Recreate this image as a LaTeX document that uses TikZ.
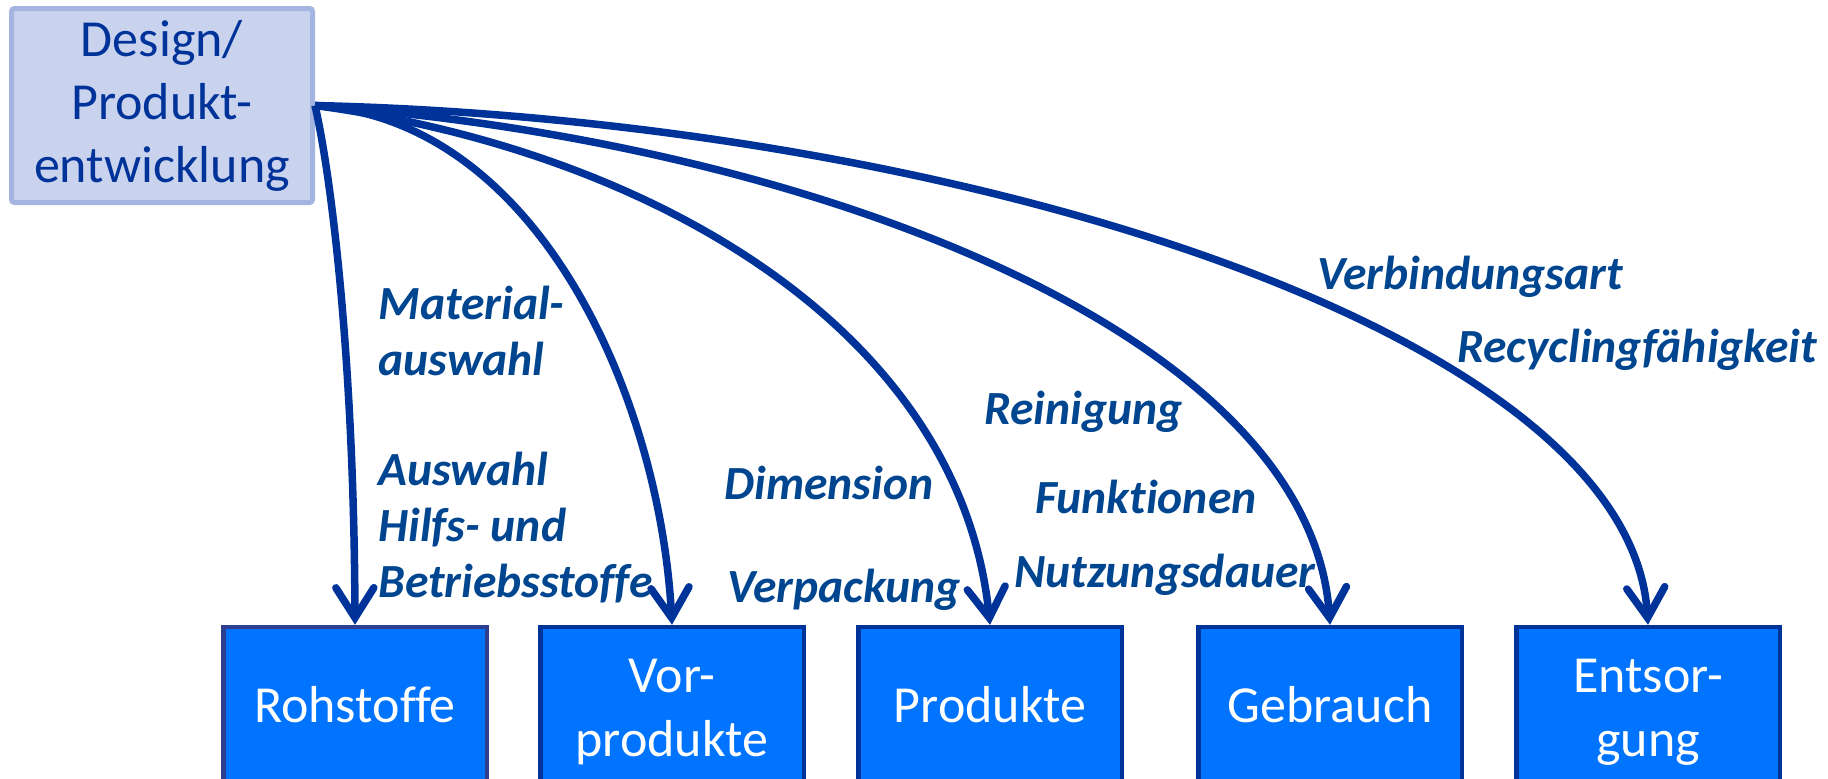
\documentclass[tikz,border=0pt]{standalone}
\usepackage{fontspec}
\setmainfont{Carlito}[Ligatures=NoCommon]
\usetikzlibrary{arrows.meta}

\definecolor{darkblue}{HTML}{003399}
\definecolor{rohblue}{HTML}{2E3F8F}
\definecolor{labelblue}{HTML}{00458F}
\definecolor{stageblue}{HTML}{0073FF}
\definecolor{designfill}{HTML}{C9D3EE}
\definecolor{designdraw}{HTML}{A3B4E0}

\begin{document}
\begin{tikzpicture}[x=0.5pt, y=-0.5pt,
    design/.style={draw=designdraw, line width=2.5pt, fill=designfill, text=darkblue,
        rounded corners=1.5pt, minimum width=150.5pt, minimum height=97pt, inner sep=0pt,
        align=center, font=\fontsize{26}{31.5}\selectfont},
    stage/.style={draw=darkblue, line width=2.25pt, fill=stageblue, text=white,
        minimum width=131.75pt, minimum height=85pt, inner sep=0pt,
        align=center, font=\fontsize{26}{32}\selectfont},
    single/.style={text depth=8pt},
    factor/.style={text=labelblue, anchor=base west, inner sep=0pt, align=left,
        font=\fontsize{23.8}{27.8}\selectfont\bfseries\itshape},
    influence/.style={darkblue, line width=3.75pt,
        -{Straight Barb[length=15pt, width=19pt, line cap=round]}}]

  % page and cut at the bottom edge
  \useasboundingbox (0,0) rectangle (1828,778);
  \clip (0,0) rectangle (1828,778);

  % Design box
  \node[design] (design) at (162,105.5) {Design/\\Produkt-\\entwicklung};

  % Stages of the life cycle
  \node[stage, single, draw=rohblue] (roh) at (355,712) {Rohstoffe};
  \node[stage] (vor) at (672,712) {Vor-\\produkte};
  \node[stage, single] (prod) at (990,712) {Produkte};
  \node[stage, single] (gebrauch) at (1330,712) {Gebrauch};
  \node[stage] (entsorgung) at (1648,712) {Entsor-\\gung};

  % Influence arrows
  \draw[influence] (design.east) .. controls (330,170) and (354,350) .. (roh.north);
  \draw[influence] (design.east) .. controls (540,120) and (660,400) .. (vor.north);
  \draw[influence] (design.east) .. controls (650,150) and (960,330) .. (prod.north);
  \draw[influence] (design.east) .. controls (800,140) and (1310,330) .. (gebrauch.north);
  \draw[influence] (design.east) .. controls (950,120) and (1630,330) .. (entsorgung.north);

  % Labels (base = last line)
  \node[factor] (material) at (378,375) {Material-\\auswahl};
  \node[factor] (hilfsstoffe) at (378,597) {Auswahl\\Hilfs- und\\Betriebsstoffe};
  \node[factor] (dimension) at (724,499) {Dimension};
  \node[factor] (verpackung) at (727,602) {Verpackung};
  \node[factor] (reinigung) at (984,424) {Reinigung};
  \node[factor] (funktionen) at (1035,513) {Funktionen};
  \node[factor] (nutzung) at (1014,587) {Nutzungsdauer};
  \node[factor] (verbindung) at (1317,289) {Verbindungsart};
  \node[factor] (recycling) at (1457,362) {Recyclingfähigkeit};

\end{tikzpicture}
\end{document}
